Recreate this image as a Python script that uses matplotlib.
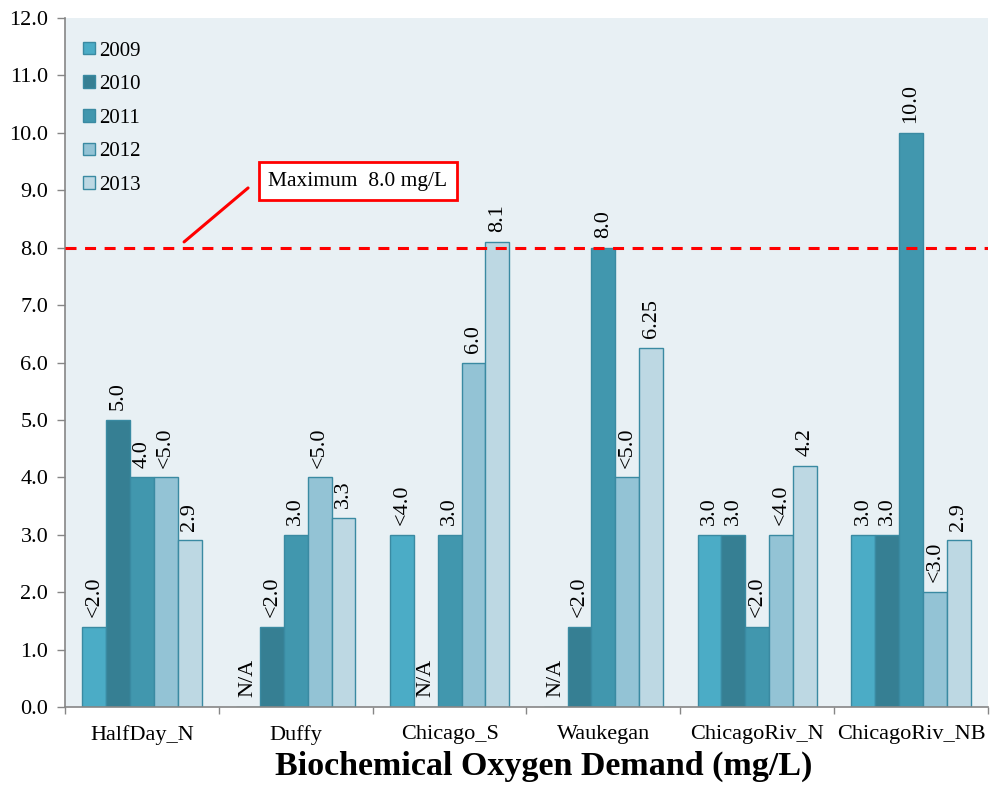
import numpy as np
import matplotlib
matplotlib.use("Agg")
import matplotlib.pyplot as plt
from matplotlib.ticker import FormatStrFormatter

plt.rcParams["font.family"] = ["Liberation Serif", "DejaVu Serif"]

SITES = ["HalfDay_N", "Duffy", "Chicago_S", "Waukegan", "ChicagoRiv_N", "ChicagoRiv_NB"]
YEARS = ["2009", "2010", "2011", "2012", "2013"]

# bar heights drawn per year (None = N/A)
BOD_2009 = [1.4, None, 3.0, None, 3.0, 3.0]
BOD_2010 = [5.0, 1.4, None, 1.4, 3.0, 3.0]
BOD_2011 = [4.0, 3.0, 3.0, 8.0, 1.4, 10.0]
BOD_2012 = [4.0, 4.0, 6.0, 4.0, 3.0, 2.0]
BOD_2013 = [2.9, 3.3, 8.1, 6.25, 4.2, 2.9]

# labels printed above the bars
LBL_2009 = ["<2.0", "N/A", "<4.0", "N/A", "3.0", "3.0"]
LBL_2010 = ["5.0", "<2.0", "N/A", "<2.0", "3.0", "3.0"]
LBL_2011 = ["4.0", "3.0", "3.0", "8.0", "<2.0", "10.0"]
LBL_2012 = ["<5.0", "<5.0", "6.0", "<5.0", "<4.0", "<3.0"]
LBL_2013 = ["2.9", "3.3", "8.1", "6.25", "4.2", "2.9"]

MAX_BOD = 8.0

COLORS = ["#4bacc6", "#367f93", "#4197ae", "#93c3d5", "#bdd8e3"]
EDGE = "#3a8aa2"

series = [BOD_2009, BOD_2010, BOD_2011, BOD_2012, BOD_2013]
labels = [LBL_2009, LBL_2010, LBL_2011, LBL_2012, LBL_2013]

fig = plt.figure(figsize=(9.9, 8.11), dpi=100)
ax = fig.add_axes([65 / 990, 104 / 811, 923 / 990, 689 / 811])
ax.set_facecolor("#e8f0f4")

x = np.arange(len(SITES))
width = 0.155
handles = []
for j, (vals, lbls) in enumerate(zip(series, labels)):
    pos = x + (j - 2) * width
    h = np.array([np.nan if v is None else v for v in vals], dtype=float)
    bars = ax.bar(pos, np.nan_to_num(h), width, color=COLORS[j],
                  edgecolor=EDGE, linewidth=1.0, label=YEARS[j], zorder=2)
    handles.append(bars)
    for xp, hv, txt in zip(pos, h, lbls):
        top = 0.0 if np.isnan(hv) else hv
        ax.annotate(txt, xy=(xp, top), xytext=(0, 7), textcoords="offset points",
                    rotation=90, ha="center", va="bottom", fontsize=16, zorder=4)

# maximum limit line with callout
ax.axhline(MAX_BOD, color="#ff0000", lw=2.2, dashes=(3.6, 2.8), zorder=3)
ax.annotate("", xy=(0.274, 8.1), xytext=(0.69, 9.04),
            arrowprops=dict(arrowstyle="-", color="#ff0000", lw=2.2,
                            shrinkA=0, shrinkB=0), zorder=5)
ax.text(1.405, 9.16, "Maximum  8.0 mg/L", fontsize=15.5, ha="center", va="center",
        bbox=dict(boxstyle="square,pad=0.45", fc="white", ec="#ff0000", lw=2),
        zorder=5)

ax.set_xlim(-0.5, len(SITES) - 0.5)
ax.set_ylim(0, 12)
ax.set_yticks(np.arange(0, 13, 1))
ax.yaxis.set_major_formatter(FormatStrFormatter("%.1f"))
ax.set_xticks(x)
ax.set_xticklabels(SITES)
ax.set_xticks(np.arange(-0.5, len(SITES), 1), minor=True)
ax.tick_params(axis="x", which="major", length=0, pad=13, labelsize=16)
ax.tick_params(axis="x", which="minor", length=5, color="#868686", width=1)
ax.tick_params(axis="y", length=6, color="#868686", width=1, labelsize=16, pad=6)

for s in ["top", "right"]:
    ax.spines[s].set_visible(False)
for s in ["left", "bottom"]:
    ax.spines[s].set_color("#868686")
    ax.spines[s].set_linewidth(1.2)

ax.legend(handles=handles, loc="upper left", bbox_to_anchor=(0.004, 0.987),
          frameon=False, fontsize=15, handlelength=0.55, handleheight=0.55,
          handletextpad=0.2, labelspacing=0.7, borderaxespad=0.3)

fig.text(544 / 990, 1 - 766 / 811, "Biochemical Oxygen Demand (mg/L)",
         ha="center", va="center", fontsize=24.5, fontweight="bold")

fig.savefig("out.png", dpi=100)
